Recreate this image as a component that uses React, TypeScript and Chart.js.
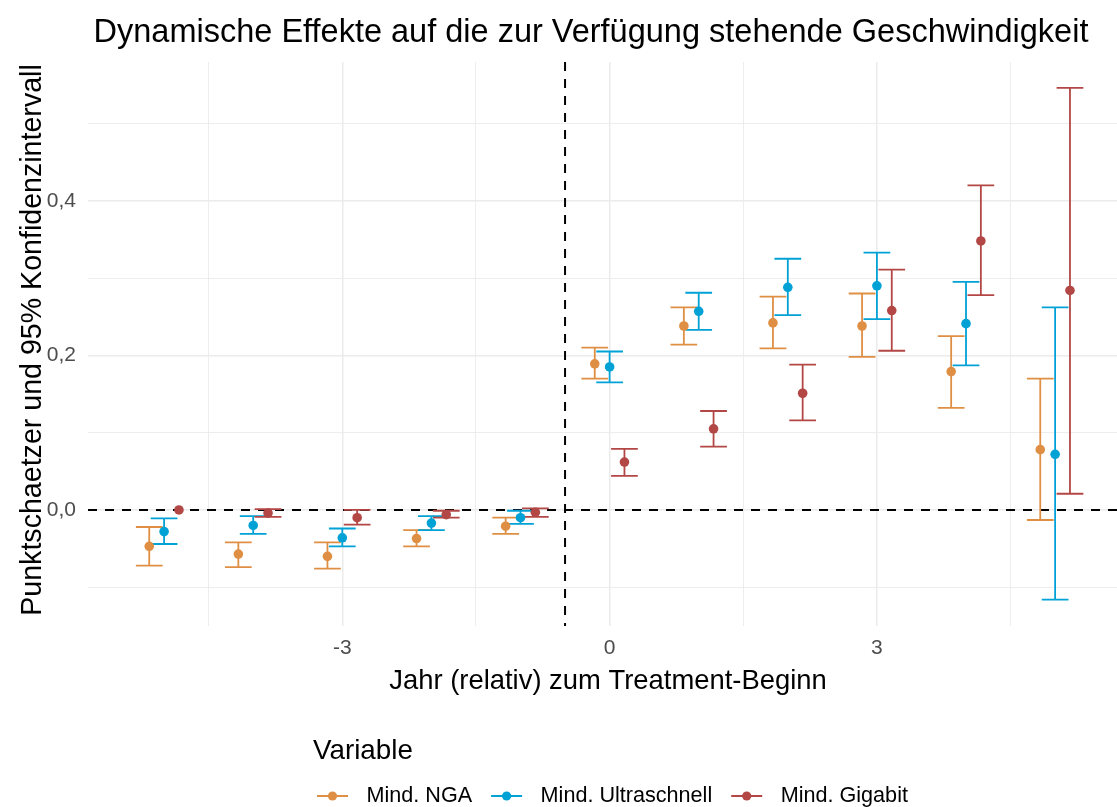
import React, { useEffect, useRef } from "react";
import { Chart, registerables } from "chart.js";

Chart.register(...registerables);

// ---------- data ----------
const years = [-5, -4, -3, -2, -1, 0, 1, 2, 3, 4, 5];

const seriesNames = ["Mind. NGA", "Mind. Ultraschnell", "Mind. Gigabit"];
const seriesColors = ["#DF8F44", "#00A1D5", "#B24745"];
const dodgeOffsets = [-1 / 6, 0, 1 / 6];

const ngaEst = [-0.047, -0.057, -0.06, -0.037, -0.021, 0.189, 0.238, 0.242, 0.238, 0.179, 0.078];
const ngaLow = [-0.072, -0.074, -0.076, -0.047, -0.031, 0.17, 0.214, 0.209, 0.198, 0.132, -0.013];
const ngaHigh = [-0.022, -0.042, -0.042, -0.026, -0.01, 0.21, 0.262, 0.276, 0.28, 0.225, 0.17];

const ultraEst = [-0.028, -0.02, -0.036, -0.017, -0.01, 0.185, 0.257, 0.288, 0.29, 0.241, 0.072];
const ultraLow = [-0.044, -0.031, -0.047, -0.026, -0.018, 0.165, 0.233, 0.252, 0.247, 0.187, -0.116];
const ultraHigh = [-0.011, -0.008, -0.024, -0.008, -0.001, 0.205, 0.281, 0.325, 0.333, 0.295, 0.262];

const gigaEst = [0.0, -0.004, -0.01, -0.006, -0.003, 0.062, 0.105, 0.151, 0.258, 0.348, 0.284];
const gigaLow = [null, -0.009, -0.019, -0.01, -0.009, 0.044, 0.082, 0.116, 0.206, 0.278, 0.021];
const gigaHigh = [null, 0.001, 0.0, -0.001, 0.002, 0.079, 0.128, 0.188, 0.311, 0.42, 0.546];

const estimates = [ngaEst, ultraEst, gigaEst];
const lows = [ngaLow, ultraLow, gigaLow];
const highs = [ngaHigh, ultraHigh, gigaHigh];

const xTickValues = [-4.5, -3, -1.5, 0, 1.5, 3, 4.5];
const xMajorTicks = [-3, 0, 3];
const yTickValues = [-0.1, 0, 0.1, 0.2, 0.3, 0.4, 0.5];
const yMajorTicks = [0, 0.2, 0.4];

const titleText = "Dynamische Effekte auf die zur Verfügung stehende Geschwindigkeit";
const xTitle = "Jahr (relativ) zum Treatment-Beginn";
const yTitle = "Punktschaetzer und 95% Konfidenzintervall";
const legendTitle = "Variable";

const zeroLine = 0;
const treatmentLine = -0.5;
const capHalfWidth = 0.15;

const FONT = "'Liberation Sans', Arial, sans-serif";

const isMajor = (v: number, list: number[]) => list.some((m) => Math.abs(m - v) < 1e-9);

const overlayPlugin = {
  id: "overlay",
  beforeDatasetsDraw(chart: any) {
    const { ctx, chartArea, scales } = chart;
    const x = scales.x;
    const y = scales.y;
    ctx.save();
    ctx.beginPath();
    ctx.rect(chartArea.left, chartArea.top, chartArea.right - chartArea.left, chartArea.bottom - chartArea.top);
    ctx.clip();

    // reference lines
    ctx.strokeStyle = "#000000";
    ctx.lineWidth = 2;
    ctx.setLineDash([9, 8]);
    const y0 = y.getPixelForValue(zeroLine);
    ctx.beginPath();
    ctx.moveTo(chartArea.left, y0);
    ctx.lineTo(chartArea.right, y0);
    ctx.stroke();
    const xv = x.getPixelForValue(treatmentLine);
    ctx.beginPath();
    ctx.moveTo(xv, chartArea.top);
    ctx.lineTo(xv, chartArea.bottom);
    ctx.stroke();
    ctx.setLineDash([]);

    // error bars
    ctx.lineWidth = 1.8;
    for (let k = 0; k < seriesNames.length; k++) {
      ctx.strokeStyle = seriesColors[k];
      years.forEach((t, i) => {
        const lo = lows[k][i];
        const hi = highs[k][i];
        if (lo == null || hi == null) return;
        const xc = x.getPixelForValue(t + dodgeOffsets[k]);
        const xl = x.getPixelForValue(t + dodgeOffsets[k] - capHalfWidth);
        const xr = x.getPixelForValue(t + dodgeOffsets[k] + capHalfWidth);
        const yl = y.getPixelForValue(lo);
        const yh = y.getPixelForValue(hi);
        ctx.beginPath();
        ctx.moveTo(xc, yl);
        ctx.lineTo(xc, yh);
        ctx.moveTo(xl, yl);
        ctx.lineTo(xr, yl);
        ctx.moveTo(xl, yh);
        ctx.lineTo(xr, yh);
        ctx.stroke();
      });
    }
    ctx.restore();
  },
  afterDraw(chart: any) {
    const { ctx } = chart;
    ctx.save();
    ctx.fillStyle = "#000000";
    ctx.textBaseline = "middle";

    // title
    ctx.font = `32.5px ${FONT}`;
    ctx.textAlign = "center";
    ctx.fillText(titleText, 591, 33);

    // x axis title
    ctx.font = `27.4px ${FONT}`;
    ctx.fillText(xTitle, 608, 681);

    // y axis title
    ctx.save();
    ctx.font = `28.6px ${FONT}`;
    ctx.translate(33, 340);
    ctx.rotate(-Math.PI / 2);
    ctx.fillText(yTitle, 0, 0);
    ctx.restore();

    // legend
    ctx.textAlign = "left";
    ctx.font = `27.8px ${FONT}`;
    ctx.fillText(legendTitle, 313, 751);

    ctx.font = `21.6px ${FONT}`;
    let lx = 317;
    const ly = 796;
    for (let k = 0; k < seriesNames.length; k++) {
      ctx.strokeStyle = seriesColors[k];
      ctx.fillStyle = seriesColors[k];
      ctx.lineWidth = 2;
      ctx.beginPath();
      ctx.moveTo(lx, ly);
      ctx.lineTo(lx + 31, ly);
      ctx.stroke();
      ctx.beginPath();
      ctx.arc(lx + 15.5, ly, 4.6, 0, Math.PI * 2);
      ctx.fill();
      ctx.fillStyle = "#000000";
      const tx = lx + 31 + 18.5;
      ctx.fillText(seriesNames[k], tx, ly);
      lx = tx + ctx.measureText(seriesNames[k]).width + 19;
    }
    ctx.restore();
  },
};

export default function App() {
  const canvasRef = useRef<HTMLCanvasElement | null>(null);

  useEffect(() => {
    if (!canvasRef.current) return;
    const datasets = seriesNames.map((name, k) => ({
      label: name,
      data: years.map((t, i) => ({ x: t + dodgeOffsets[k], y: estimates[k][i] })),
      backgroundColor: seriesColors[k],
      borderColor: seriesColors[k],
      pointRadius: 4.8,
      pointBorderWidth: 0,
      showLine: false,
    }));

    const chart = new Chart(canvasRef.current, {
      type: "scatter",
      data: { datasets },
      plugins: [overlayPlugin],
      options: {
        animation: false,
        responsive: false,
        events: [],
        layout: { padding: { top: 62, right: 0, bottom: 0, left: 0 } },
        plugins: {
          legend: { display: false },
          title: { display: false },
          tooltip: { enabled: false },
        },
        scales: {
          x: {
            type: "linear",
            min: -5.854,
            max: 5.708,
            afterBuildTicks: (scale: any) => {
              scale.ticks = xTickValues.map((v) => ({ value: v }));
            },
            afterFit: (scale: any) => {
              scale.height = 181;
            },
            ticks: {
              autoSkip: false,
              maxRotation: 0,
              padding: 10,
              color: "#4D4D4D",
              font: { family: FONT, size: 21 },
              callback: (v: any) => (isMajor(Number(v), xMajorTicks) ? String(v) : ""),
            },
            grid: {
              color: "#EBEBEB",
              lineWidth: (c: any) => (c.tick && isMajor(c.tick.value, xMajorTicks) ? 1.5 : 0.9),
              drawTicks: false,
            },
            border: { display: false },
          },
          y: {
            type: "linear",
            min: -0.1501,
            max: 0.5795,
            afterBuildTicks: (scale: any) => {
              scale.ticks = yTickValues.map((v) => ({ value: v }));
            },
            afterFit: (scale: any) => {
              scale.width = 88;
            },
            ticks: {
              autoSkip: false,
              padding: 12,
              color: "#4D4D4D",
              font: { family: FONT, size: 21 },
              callback: (v: any) =>
                isMajor(Number(v), yMajorTicks) ? Number(v).toFixed(1).replace(".", ",") : "",
            },
            grid: {
              color: "#EBEBEB",
              lineWidth: (c: any) => (c.tick && isMajor(c.tick.value, yMajorTicks) ? 1.5 : 0.9),
              drawTicks: false,
            },
            border: { display: false },
          },
        },
      } as any,
    });
    return () => chart.destroy();
  }, []);

  return (
    <div
      style={{
        position: "fixed",
        left: 0,
        top: 0,
        width: 1117,
        height: 807,
        overflow: "hidden",
        background: "#ffffff",
      }}
    >
      <canvas ref={canvasRef} width={1123} height={807} style={{ width: 1123, height: 807, display: "block" }} />
    </div>
  );
}
